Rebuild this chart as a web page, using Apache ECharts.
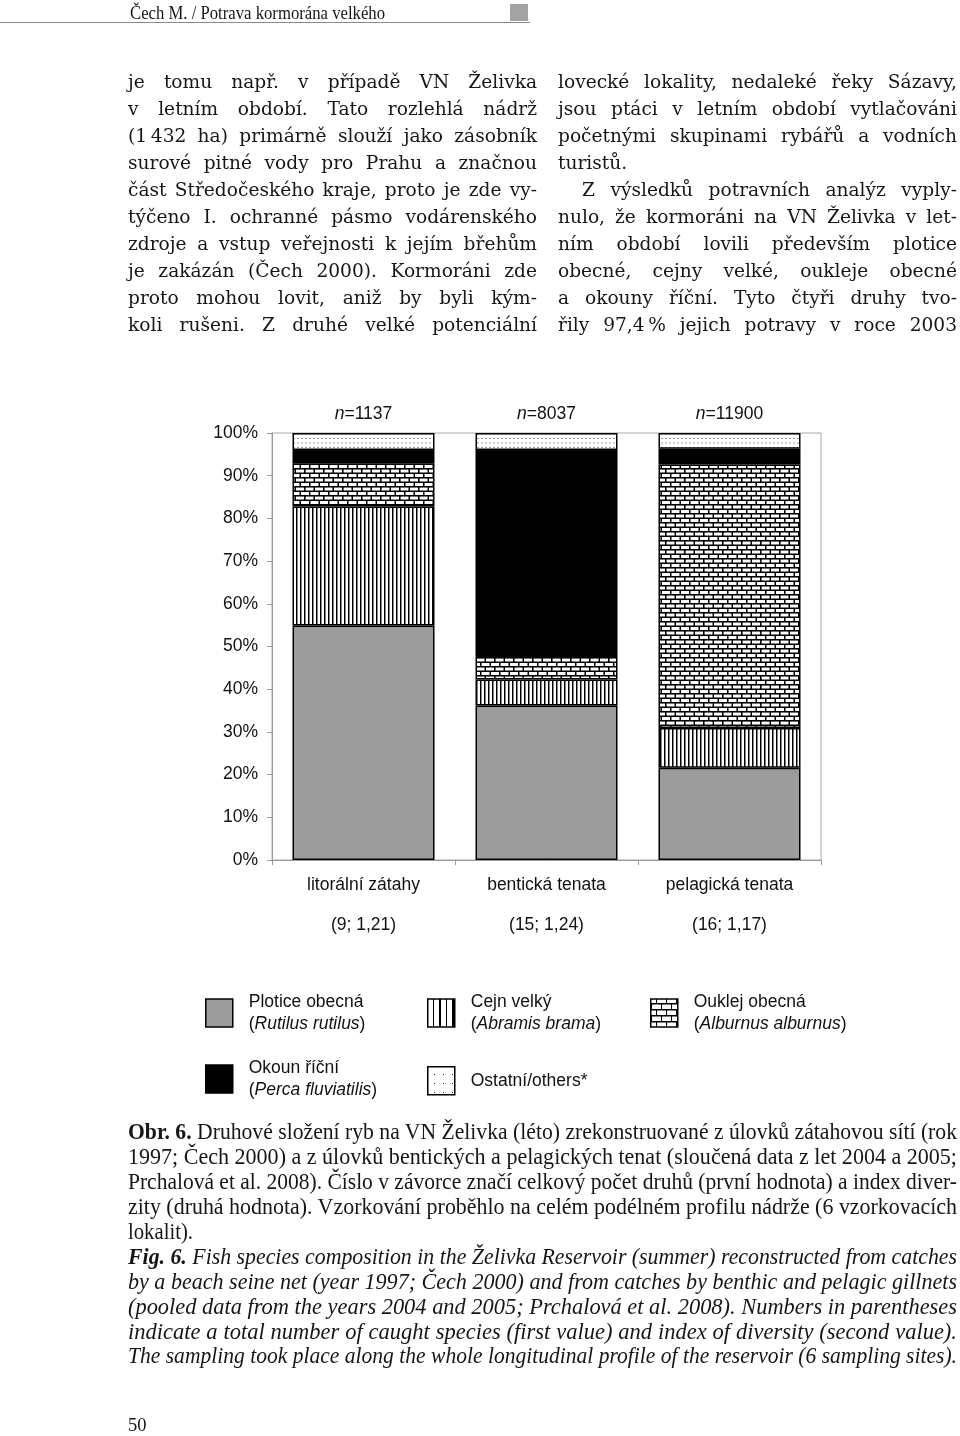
<!DOCTYPE html>
<html><head><meta charset="utf-8">
<script src="https://cdn.jsdelivr.net/npm/echarts@6/dist/echarts.min.js"></script>
<style>
html,body{margin:0;padding:0;background:#fff;}
#page{position:relative;width:960px;height:1436px;overflow:hidden;background:#fff;}
#chart{position:absolute;left:0;top:0;width:960px;height:1436px;}
.blk{position:absolute;z-index:2;color:#161616;}
.ln{white-space:nowrap;}
.ln > span{display:inline-block;white-space:nowrap;transform-origin:0 50%;}
.body{font-family:'DejaVu Serif',serif;font-size:18.6px;line-height:27.06px;}
.cap{font-family:'Liberation Serif',serif;font-size:22.5px;line-height:24.9px;}
.it{font-style:italic;}
</style></head>
<body><div id="page">
<div id="chart"></div>
<div class="blk" style="left:0;top:21.5px;width:530px;height:1.5px;background:#8a8a8a"></div>
<div class="blk" style="left:510px;top:4px;width:18px;height:17px;background:#a3a3a3"></div>
</div>
<script>
// ---------- chart data ----------
const categories = ['litorální zátahy', 'bentická tenata', 'pelagická tenata'];
const diversity = ['(9; 1,21)', '(15; 1,24)', '(16; 1,17)'];
const sampleSizes = ['1137', '8037', '11900'];
const plotice = [54.9, 36.2, 21.6];
const cejn = [27.9, 6.1, 9.3];
const ouklej = [10.1, 5.5, 61.7];
const okoun = [3.1, 48.2, 3.7];
const ostatni = [4.0, 4.0, 3.7];
const yTicks = [0, 10, 20, 30, 40, 50, 60, 70, 80, 90, 100];
const legendNames = ['Plotice obecná', 'Cejn velký', 'Ouklej obecná', 'Okoun říční', 'Ostatní/others*'];
const legendLatin = ['Rutilus rutilus', 'Abramis brama', 'Alburnus alburnus', 'Perca fluviatilis', ''];

// ---------- page text ----------
const headerText = 'Čech M. / Potrava kormorána velkého';
const leftCol = [
 'je tomu např. v případě VN Želivka',
 'v letním období. Tato rozlehlá nádrž',
 '(1\u2009432 ha) primárně slouží jako zásobník',
 'surové pitné vody pro Prahu a značnou',
 'část Středočeského kraje, proto je zde vy-',
 'týčeno I. ochranné pásmo vodárenského',
 'zdroje a vstup veřejnosti k jejím břehům',
 'je zakázán (Čech 2000). Kormoráni zde',
 'proto mohou lovit, aniž by byli kým-',
 'koli rušeni. Z druhé velké potenciální'
];
const rightCol = [
 'lovecké lokality, nedaleké řeky Sázavy,',
 'jsou ptáci v letním období vytlačováni',
 'početnými skupinami rybářů a vodních',
 'turistů.',
 'Z výsledků potravních analýz vyply-',
 'nulo, že kormoráni na VN Želivka v let-',
 'ním období lovili především plotice',
 'obecné, cejny velké, oukleje obecné',
 'a okouny říční. Tyto čtyři druhy tvo-',
 'řily 97,4\u2009% jejich potravy v roce 2003'
];
const captionCz = [
 '<b>Obr. 6.</b> Druhové složení ryb na VN Želivka (léto) zrekonstruované z úlovků zátahovou sítí (rok',
 '1997; Čech 2000) a z úlovků bentických a pelagických tenat (sloučená data z let 2004 a 2005;',
 'Prchalová et al. 2008). Číslo v závorce značí celkový počet druhů (první hodnota) a index diver-',
 'zity (druhá hodnota). Vzorkování proběhlo na celém podélném profilu nádrže (6 vzorkovacích',
 'lokalit).'
];
const captionEn = [
 '<b>Fig. 6.</b> Fish species composition in the Želivka Reservoir (summer) reconstructed from catches',
 'by a beach seine net (year 1997; Čech 2000) and from catches by benthic and pelagic gillnets',
 '(pooled data from the years 2004 and 2005; Prchalová et al. 2008). Numbers in parentheses',
 'indicate a total number of caught species (first value) and index of diversity (second value).',
 'The sampling took place along the whole longitudinal profile of the reservoir (6 sampling sites).'
];

const page = document.getElementById('page');
function addLine(html, left, top, width, cls, mode, cond, extraStyle) {
  const d = document.createElement('div');
  d.className = 'blk ln ' + cls;
  d.style.left = left + 'px';
  d.style.top = top + 'px';
  d.dataset.w = width;
  d.dataset.mode = mode;
  d.dataset.c = cond || 1;
  if (extraStyle) d.setAttribute('style', d.getAttribute('style') + ';' + extraStyle);
  const s = document.createElement('span');
  s.innerHTML = html;
  d.appendChild(s);
  page.appendChild(d);
}
addLine(headerText, 130, 2, 255, '', 'scale', 1, "font-family:'Liberation Serif';font-size:18.5px;line-height:22px");
leftCol.forEach((t, i) => addLine(t, 128, 67.9 + i * 27.06, 409, 'body', 'justify', 1));
rightCol.forEach((t, i) => {
  const indent = i === 4 ? 24 : 0;
  addLine(t, 558 + indent, 67.9 + i * 27.06, 399 - indent, 'body', i === 3 ? 'left' : 'justify', 1);
});
captionCz.forEach((t, i) => addLine(t, 128, 1120.3 + i * 24.9, 829, 'cap', i === 4 ? 'left' : 'fill', 0.92));
captionEn.forEach((t, i) => addLine(t, 128, 1120.3 + (i + 5) * 24.9, 829, 'cap it', 'fill', 0.92));
addLine('50', 128, 1414, 40, '', 'left', 1, "font-family:'Liberation Serif';font-size:18.5px;line-height:22px");

function fitAll() {
  document.querySelectorAll('.ln').forEach(d => {
    const s = d.firstElementChild;
    s.style.transform = ''; s.style.wordSpacing = '';
    const target = parseFloat(d.dataset.w);
    const mode = d.dataset.mode;
    const c = parseFloat(d.dataset.c) || 1;
    const nat = s.getBoundingClientRect().width;
    const n = (s.textContent.match(/ /g) || []).length;
    if (mode === 'scale') {
      s.style.transform = 'scaleX(' + (target / nat) + ')';
    } else if (mode === 'fill') {
      let k = Math.min(1, Math.max(0.8, target / nat));
      s.style.transform = 'scaleX(' + k + ')';
      if (n && nat * k < target) s.style.wordSpacing = ((target / k - nat) / n) + 'px';
    } else if (nat * c > target) {
      s.style.transform = 'scaleX(' + (target / nat) + ')';
    } else {
      if (c !== 1) s.style.transform = 'scaleX(' + c + ')';
      if (mode === 'justify' && n) s.style.wordSpacing = ((target / c - nat) / n) + 'px';
    }
  });
}
fitAll();
if (document.fonts && document.fonts.ready) document.fonts.ready.then(fitAll);

// ---------- patterns ----------
function pat(w, h, scale, draw, offX, offY) {
  const c = document.createElement('canvas');
  c.width = w; c.height = h;
  const g = c.getContext('2d');
  draw(g, w, h);
  return { image: c, repeat: 'repeat', scaleX: 1 / scale, scaleY: 1 / scale, x: offX || 0, y: offY || 0 };
}
const grayFill = '#9c9c9c';
const vertPat = pat(8, 8, 2, (g, w, h) => {
  g.fillStyle = '#fff'; g.fillRect(0, 0, w, h);
  g.fillStyle = '#000'; g.fillRect(0, 0, 3, h);
});
const brickPat = pat(19, 18, 2, (g, w, h) => {
  g.fillStyle = '#000'; g.fillRect(0, 0, w, h);
  g.fillStyle = '#fff';
  g.fillRect(3, 3, 16, 6);
  g.fillRect(-6, 12, 16, 6);
  g.fillRect(13, 12, 16, 6);
});
const dotPat = pat(8, 9, 2, (g, w, h) => {
  g.fillStyle = '#fff'; g.fillRect(0, 0, w, h);
  g.fillStyle = '#333'; g.fillRect(3, 3, 2, 2);
});
// larger patterns for legend keys
const vertPatL = pat(13, 8, 2, (g, w, h) => {
  g.fillStyle = '#fff'; g.fillRect(0, 0, w, h);
  g.fillStyle = '#000'; g.fillRect(0, 0, 3, h);
}, 5, 0);
const brickPatL = pat(20, 24, 2, (g, w, h) => {
  g.fillStyle = '#000'; g.fillRect(0, 0, w, h);
  g.fillStyle = '#fff';
  g.fillRect(3, 3, 17, 9);
  g.fillRect(-7, 15, 17, 9);
  g.fillRect(13, 15, 17, 9);
}, 0, 4);
const dotPatL = pat(18, 18, 2, (g, w, h) => {
  g.fillStyle = '#fff'; g.fillRect(0, 0, w, h);
  g.fillStyle = '#222'; g.fillRect(8, 8, 3, 3);
}, 2, 3);

const fills = [grayFill, vertPat, brickPat, '#000', dotPat];
const legendFills = [grayFill, vertPatL, brickPatL, '#000', dotPatL];
const seriesValues = [plotice, cejn, ouklej, okoun, ostatni];
const legendPos = [
  { left: 205, top: 993 }, { left: 427, top: 993 }, { left: 650, top: 993 },
  { left: 205, top: 1059 }, { left: 427, top: 1066 }
];

const FONT = 'Liberation Sans';
const FS = 17.5;

const chart = echarts.init(document.getElementById('chart'), null, { renderer: 'canvas' });
const option = {
  animation: false,
  backgroundColor: 'transparent',
  grid: {
    left: 272, right: 139, top: 433, bottom: 576,
    show: true, borderColor: '#a8a8a8', borderWidth: 1, backgroundColor: 'transparent'
  },
  xAxis: {
    type: 'category',
    data: categories,
    axisLine: { show: true, lineStyle: { color: '#9a9a9a', width: 1 } },
    axisTick: { show: true, length: 5, lineStyle: { color: '#9a9a9a' } },
    axisLabel: {
      margin: 15, lineHeight: 20, fontSize: FS, fontFamily: FONT, color: '#111',
      formatter: (v, i) => v + '\n\n' + diversity[i]
    },
    splitLine: { show: false }
  },
  yAxis: {
    type: 'value', min: yTicks[0], max: yTicks[yTicks.length - 1], interval: 10,
    axisLine: { show: true, lineStyle: { color: '#9a9a9a', width: 1 } },
    axisTick: { show: true, length: 5, lineStyle: { color: '#9a9a9a' } },
    axisLabel: { margin: 14, fontSize: FS, fontFamily: FONT, color: '#111', formatter: '{value}%' },
    splitLine: { show: false }
  },
  legend: legendNames.map((nm, i) => ({
    left: legendPos[i].left, top: legendPos[i].top, padding: 0,
    orient: 'horizontal', selectedMode: false, icon: 'rect',
    itemWidth: 27, itemHeight: 28,
    data: [{ name: nm, icon: 'rect', itemStyle: { color: legendFills[i], borderColor: '#000', borderWidth: 1.5 } }],
    formatter: name => {
      const k = legendNames.indexOf(name);
      if (!legendLatin[k]) return '{a|' + name + '}';
      return '{a|' + name + '}\n{a|(}{b|' + legendLatin[k] + '}{a|)}';
    },
    textStyle: {
      color: '#111', fontSize: FS, fontFamily: FONT, padding: [0, 0, 0, 11],
      rich: {
        a: { fontSize: FS, fontFamily: FONT, color: '#111', lineHeight: 22 },
        b: { fontSize: FS, fontFamily: FONT, color: '#111', lineHeight: 22, fontStyle: 'italic' }
      }
    }
  })),
  series: legendNames.map((nm, i) => ({
    name: nm,
    type: 'bar',
    stack: 'total',
    barWidth: 142,
    data: seriesValues[i],
    itemStyle: { color: fills[i], borderColor: '#000', borderWidth: 1.5 },
    emphasis: { disabled: true },
    label: i === legendNames.length - 1 ? {
      show: true, position: 'top', distance: 10,
      formatter: p => '{i|n}{r|=' + sampleSizes[p.dataIndex] + '}',
      rich: {
        i: { fontSize: FS, fontFamily: FONT, color: '#111', fontStyle: 'italic' },
        r: { fontSize: FS, fontFamily: FONT, color: '#111' }
      }
    } : { show: false }
  }))
};
chart.setOption(option);
</script>
</body></html>
